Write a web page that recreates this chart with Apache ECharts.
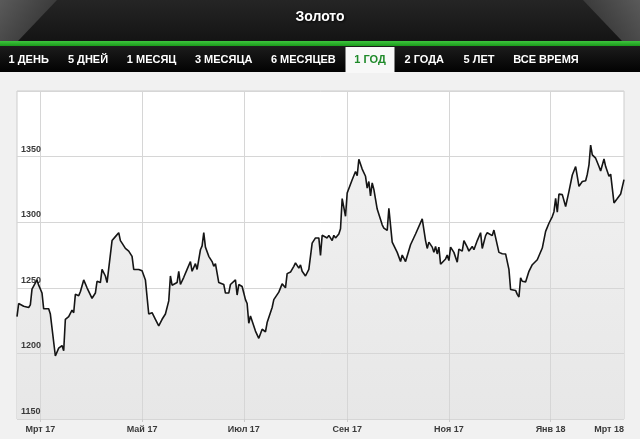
<!DOCTYPE html>
<html>
<head>
<meta charset="utf-8">
<script src="https://cdn.jsdelivr.net/npm/echarts@6/dist/echarts.min.js"></script>
<style>
html,body{margin:0;padding:0;background:#f1f1f1;}
#c{width:640px;height:439px;}
</style>
</head>
<body>
<div id="c"></div>
<script>
// ---- data ----
const title = 'Золото';
const tabs = ['1 ДЕНЬ','5 ДНЕЙ','1 МЕСЯЦ','3 МЕСЯЦА','6 МЕСЯЦЕВ','1 ГОД','2 ГОДА','5 ЛЕТ','ВСЕ ВРЕМЯ'];
const activeTab = '1 ГОД';
// days counted from 1 Mar 2017
const days = [-14,-13,-10,-7,-6,-5,-2,-1,1,2,5,6,9,11,13,14,15,17,19,20,21,23,24,26,28,29,31,33,34,36,37,39,40,41,43,45,47,48,49,51,53,55,56,59,61,63,65,67,69,71,73,75,77,78,79,82,83,84,86,88,90,91,93,94,96,97,98,99,101,103,104,105,107,108,110,111,113,114,115,117,118,119,121,122,123,124,125,126,129,131,133,135,136,139,140,141,143,145,146,147,148,150,152,153,155,156,157,159,161,163,165,167,168,169,172,173,175,176,177,179,180,181,183,184,187,189,190,191,193,195,196,197,198,199,200,202,203,205,206,208,209,211,212,214,216,217,219,222,225,229,231,232,233,235,236,237,238,239,240,243,244,245,246,248,250,251,253,254,256,257,259,260,262,264,265,267,268,269,271,272,273,275,277,279,281,282,285,286,287,288,289,291,293,295,296,298,301,303,305,307,308,309,310,311,313,315,317,319,321,323,325,327,328,329,330,331,333,335,336,338,339,341,342,344,346,348,350];
const prices = [1228,1238,1236,1235,1237,1249,1256,1252,1246,1234,1234,1230,1198,1204,1206,1202,1226,1228,1233,1231,1245,1244,1247,1256,1250,1251,1242,1246,1255,1254,1264,1259,1254,1255,1286,1289,1292,1286,1284,1280,1278,1274,1264,1264,1263,1256,1230,1231,1226,1221,1226,1230,1240,1259,1252,1254,1262.6,1252.5,1258,1264,1270,1262.6,1268.4,1264,1279,1282,1292,1281,1274,1270,1266.4,1268.4,1254,1252.5,1252.5,1246,1246,1252.5,1254,1256,1244.5,1252.5,1251,1246,1241,1238,1223,1228.5,1217,1211.5,1218.4,1216.5,1223.5,1235,1241,1240,1246.7,1253,1254,1250,1260.8,1262,1266.4,1269,1265,1267.5,1262.6,1259,1264,1284,1288,1288,1274.7,1290,1288,1290,1286,1290,1288,1291,1295,1318,1304.5,1322.3,1332.4,1338.6,1335.4,1348,1340.5,1335,1326,1331,1320,1330,1325,1310,1311.3,1298,1295.5,1293.7,1310.5,1284.8,1284.2,1277,1270,1275,1270,1282.8,1291,1302.5,1286,1280,1284.8,1281,1277,1281.6,1275.8,1281,1268,1272,1275,1270.7,1281,1277,1269.5,1279.5,1278,1286,1281,1278,1281.5,1279,1286,1292,1280,1289.8,1292,1291,1289.8,1294,1293.5,1277,1276,1275.8,1264,1248.7,1248,1245,1243,1257.6,1255,1254.5,1262.6,1267.6,1266.4,1271.4,1280.3,1293,1299.2,1304.3,1308,1318.2,1307.6,1321.4,1321,1312,1323.5,1336,1342.4,1327.3,1331,1331.6,1336.6,1343.7,1358.8,1351.3,1348.8,1342.4,1339,1348.2,1342.4,1335,1336.6,1314.7,1318,1321.5,1332.4];
const monthDays = [0,61,122,184,245,306];
const monthLabels = ['Мрт 17','Май 17','Июл 17','Сен 17','Ноя 17','Янв 18'];
const endLabel = 'Мрт 18';
const dayMin = -14, dayMax = 350;
const yMin = 1150, yMax = 1400, yStep = 50;

// ---- layout (positions only) ----
const tabCenters = [28.7,88,151.6,223.7,303.3,370,424.3,479,546];

const chart = echarts.init(document.getElementById('c'), null, {renderer:'canvas'});
const seriesData = days.map((d,i)=>[d,prices[i]]);
const labelValues = monthDays.concat([dayMax]);
const labelTexts = monthLabels.concat([endLabel]);
const FONT = '"Liberation Sans", Arial, sans-serif';

const graphics = [
  {type:'rect', shape:{x:0,y:0,width:640,height:41}, style:{fill:new echarts.graphic.LinearGradient(0,0,0,1,[{offset:0,color:'#252525'},{offset:1,color:'#141414'}])}, silent:true},
  {type:'polygon', shape:{points:[[0,0],[57,0],[18,41],[0,41]]}, style:{fill:new echarts.graphic.LinearGradient(0,0,1,1,[{offset:0,color:'#5a5a5a'},{offset:1,color:'#2c2c2c'}])}, silent:true},
  {type:'polygon', shape:{points:[[583,0],[640,0],[640,41],[622,41]]}, style:{fill:new echarts.graphic.LinearGradient(1,0,0,1,[{offset:0,color:'#5a5a5a'},{offset:1,color:'#2c2c2c'}])}, silent:true},
  {type:'rect', shape:{x:0,y:41,width:640,height:5}, style:{fill:new echarts.graphic.LinearGradient(0,0,0,1,[{offset:0,color:'#3fc43f'},{offset:1,color:'#1a9a1a'}])}, silent:true},
  {type:'rect', shape:{x:0,y:46,width:640,height:26}, style:{fill:new echarts.graphic.LinearGradient(0,0,0,1,[{offset:0,color:'#1c1c1c'},{offset:1,color:'#020202'}])}, silent:true},
  {type:'text', x:320, y:17, style:{text:title, fill:'#ffffff', font:'bold 14px ' + FONT, align:'center', verticalAlign:'middle', textShadowColor:'#000', textShadowBlur:3, textShadowOffsetX:1, textShadowOffsetY:1}, silent:true}
];
tabs.forEach((t,i)=>{
  const active = t === activeTab;
  if (active) {
    graphics.push({type:'rect', shape:{x:tabCenters[i]-24.5,y:47,width:49,height:26}, style:{fill:'#f8f8f8'}, silent:true});
  }
  graphics.push({type:'text', x:tabCenters[i], y:60, style:{text:t, fill: active ? '#1f8a2a' : '#ffffff', font:'bold 11px ' + FONT, align:'center', verticalAlign:'middle'}, silent:true});
});

chart.setOption({
  animation:false,
  backgroundColor:'#f1f1f1',
  graphic: graphics,
  grid:{left:17, right:16, top:91, bottom:20, show:true, backgroundColor:'#ffffff', borderColor:'#cdcdcd', borderWidth:1},
  xAxis:{
    type:'value', min:dayMin, max:dayMax, z:2,
    axisLine:{show:false},
    axisTick:{show:true, length:3, customValues:monthDays, lineStyle:{color:'#cdcdcd'}},
    splitLine:{show:true, lineStyle:{color:'#d6d6d6', width:1}},
    axisLabel:{
      customValues:labelValues,
      alignMaxLabel:'right',
      margin:6,
      color:'#3a3a3a',
      fontSize:9, fontWeight:'bold', fontFamily:FONT,
      formatter:(v)=>{const k=labelValues.indexOf(v); return k>=0?labelTexts[k]:'';}
    }
  },
  yAxis:{
    type:'value', min:yMin, max:yMax, interval:yStep, z:2,
    axisLine:{show:false}, axisTick:{show:false},
    splitLine:{show:true, lineStyle:{color:'#d6d6d6', width:1}},
    axisLabel:{
      inside:true, margin:4, showMaxLabel:false,
      verticalAlign:'bottom', padding:[0,0,3,0],
      color:'#3a3a3a', fontSize:9, fontWeight:'bold', fontFamily:FONT,
      formatter:(v)=>String(v)
    }
  },
  series:[{
    name:'area',
    type:'line', data:seriesData, showSymbol:false, symbol:'none',
    lineStyle:{width:0, opacity:0},
    areaStyle:{color:new echarts.graphic.LinearGradient(0,0,0,1,[{offset:0,color:'#f1f1f1'},{offset:1,color:'#e7e7e7'}]), origin:'start', opacity:1},
    z:1, silent:true
  },{
    name:'Золото',
    type:'line', data:seriesData, showSymbol:false, symbol:'none',
    lineStyle:{color:'#151515', width:1.6},
    z:3
  }]
});
</script>
</body>
</html>
